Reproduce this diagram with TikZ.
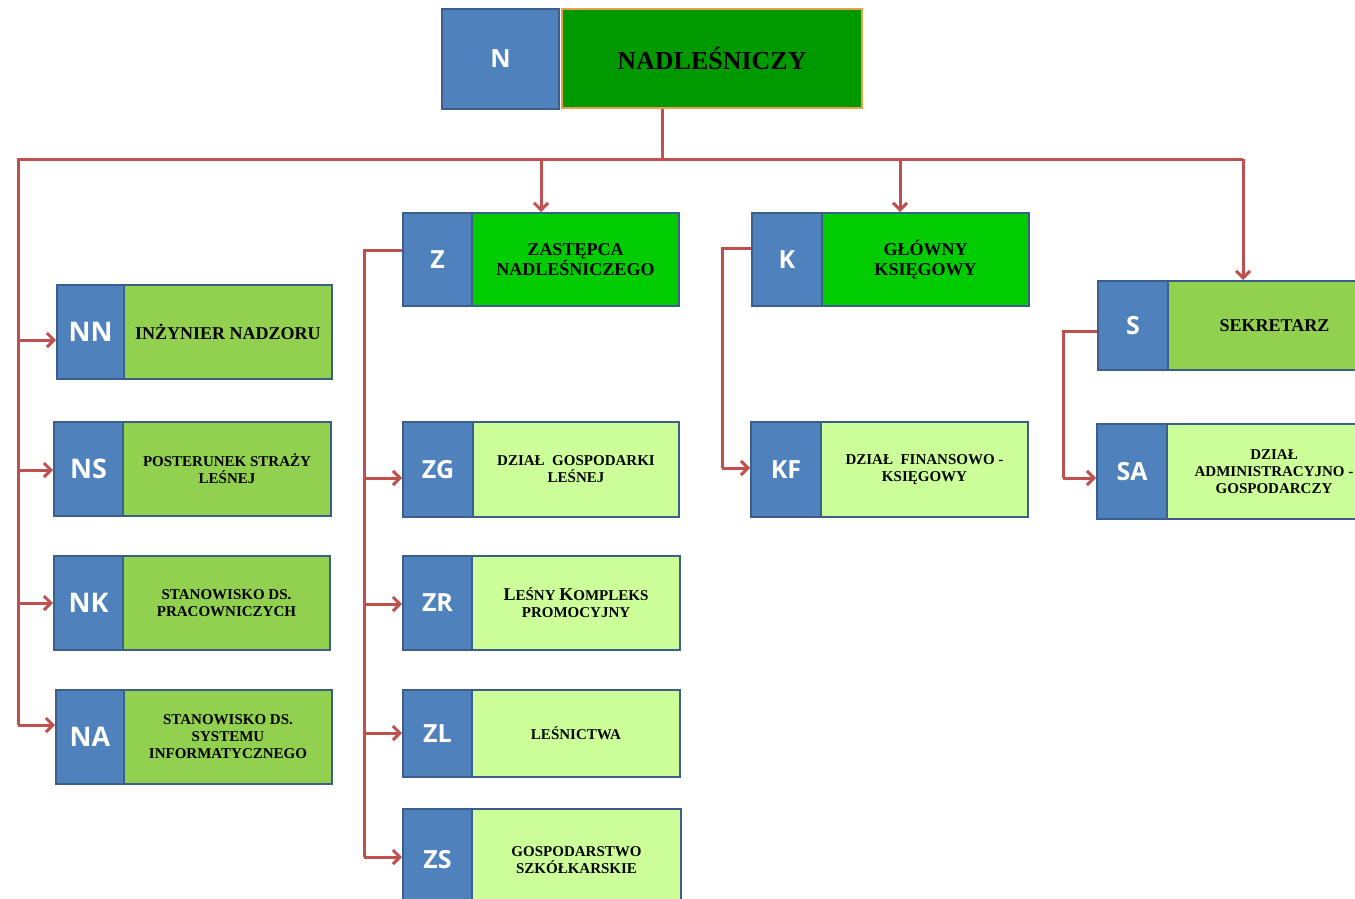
\documentclass[tikz,border=0pt]{standalone}
\usepackage{fontspec}
\setmainfont{Liberation Serif}
\newfontfamily\codefont{Open Sans}
\usetikzlibrary{arrows.meta,calc}
\definecolor{blu}{HTML}{4F81BD}
\definecolor{bdr}{HTML}{3A5F8B}
\definecolor{gmid}{HTML}{92D050}
\definecolor{gbright}{HTML}{00CC00}
\definecolor{gdark}{HTML}{009900}
\definecolor{glight}{HTML}{CCFF99}
\definecolor{orng}{HTML}{E8A04C}
\definecolor{arrred}{HTML}{C0504D}
\tikzset{
  codebox/.style={draw=bdr, fill=blu, line width=2pt, text=white, anchor=north west, inner sep=0pt,
     font=\codefont\bfseries\fontsize{25}{27}\selectfont},
  codebig/.style={font=\codefont\bfseries\fontsize{27}{29}\selectfont},
  titlebox/.style={draw=bdr, line width=2pt, text=black, anchor=north west, inner sep=0pt, align=center},
  tsmall/.style={font=\bfseries\fontsize{15}{17}\selectfont},
  tbig/.style={font=\bfseries\fontsize{18}{20}\selectfont},
  wire/.style={draw=arrred, line width=3pt},
  arr/.style={wire, -{Straight Barb[length=7pt,width=14pt]}}
}
% id, code, xl, xm, xr, yt, yb, code style, title style
\newcommand\orgunit[9]{%
  \node[codebox, #8, minimum width={(#4-#3)*1pt}, minimum height={(#7-#6)*1pt}] (#1code) at (#3,#6) {#2};
  \node[titlebox, #9, minimum width={(#5-#4)*1pt}, minimum height={(#7-#6)*1pt}] (#1) at (#4,#6) {\unittext};
}
\begin{document}
\begin{tikzpicture}[x=1pt,y=-1pt]
\useasboundingbox[fill=white] (0,0) rectangle (1355,899);

% top
\node[codebox, minimum width=117pt, minimum height=100pt] (Ncode) at (441,8) {N};
\node[titlebox, draw=orng, fill=gdark, minimum width=300pt, minimum height=99pt,
      font=\bfseries\fontsize{26}{28}\selectfont] (N) at (561,8) {NADLEŚNICZY};

% left column
\def\unittext{INŻYNIER NADZORU}
\orgunit{NN}{NN}{56}{123}{331}{284}{378}{codebig}{fill=gmid,tbig}
\def\unittext{POSTERUNEK STRAŻY\\LEŚNEJ}
\orgunit{NS}{NS}{53}{122}{330}{421}{515}{codebig}{fill=gmid,tsmall}
\def\unittext{STANOWISKO DS.\\PRACOWNICZYCH}
\orgunit{NK}{NK}{53}{122}{329}{555}{649}{codebig}{fill=gmid,tsmall}
\def\unittext{STANOWISKO DS.\\SYSTEMU\\INFORMATYCZNEGO}
\orgunit{NA}{NA}{55}{123}{331}{689}{783}{codebig}{fill=gmid,tsmall}

% Z column
\def\unittext{ZASTĘPCA\\NADLEŚNICZEGO}
\orgunit{Z}{Z}{402}{471}{678}{212}{305}{}{fill=gbright,tbig}
\def\unittext{DZIAŁ\ \ GOSPODARKI\\LEŚNEJ}
\orgunit{ZG}{ZG}{402}{472}{678}{421}{516}{}{fill=glight,tsmall}
\def\unittext{{\fontsize{18}{17}\selectfont L}EŚNY {\fontsize{18}{17}\selectfont K}OMPLEKS\\PROMOCYJNY}
\orgunit{ZR}{ZR}{402}{471}{679}{555}{649}{}{fill=glight,tsmall}
\def\unittext{LEŚNICTWA}
\orgunit{ZL}{ZL}{402}{471}{679}{689}{776}{}{fill=glight,tsmall}
\def\unittext{GOSPODARSTWO\\SZKÓŁKARSKIE}
\orgunit{ZS}{ZS}{402}{471}{680}{808}{910}{}{fill=glight,tsmall}

% K column
\def\unittext{GŁÓWNY\\KSIĘGOWY}
\orgunit{K}{K}{751}{821}{1028}{212}{305}{}{fill=gbright,tbig}
\def\unittext{DZIAŁ\ \ FINANSOWO -\\KSIĘGOWY}
\orgunit{KF}{KF}{750}{820}{1027}{421}{516}{}{fill=glight,tsmall}

% S column
\def\unittext{SEKRETARZ}
\orgunit{S}{S}{1097}{1167}{1380}{280}{369}{}{fill=gmid,tbig}
\def\unittext{DZIAŁ\\ADMINISTRACYJNO -\\GOSPODARCZY}
\orgunit{SA}{SA}{1096}{1166}{1380}{423}{518}{}{fill=glight,tsmall}

% connectors
\coordinate (stem) at (662,159);
\coordinate (busL) at (18,159);
\coordinate (busR) at (1243,159);
\coordinate (zx) at (541,159);
\coordinate (kx) at (900,159);
\coordinate (zbus) at (364,250);
\coordinate (kbus) at (722,248);
\coordinate (sbus) at (1063,331);

\draw[wire] (stem |- N.south) -- (stem);
\draw[wire, line join=miter] (busR) -- (busL) -- (busL |- 0,725);
\draw[arr] (busR) -- (busR |- S.north);
\draw[arr] (zx) -- (zx |- Z.north);
\draw[arr] (kx) -- (kx |- K.north);

\draw[arr] (busL |- 0,340) -- (NNcode.west |- 0,340);
\draw[arr] (busL |- 0,470) -- (NScode.west |- 0,470);
\draw[arr] (busL |- 0,603) -- (NKcode.west |- 0,603);
\draw[arr] (busL |- 0,725) -- (NAcode.west |- 0,725);

\draw[wire] (Zcode.west |- zbus) -- (zbus) -- (zbus |- 0,857);
\draw[arr] (zbus |- 0,478) -- (ZGcode.west |- 0,478);
\draw[arr] (zbus |- 0,604) -- (ZRcode.west |- 0,604);
\draw[arr] (zbus |- 0,733) -- (ZLcode.west |- 0,733);
\draw[arr] (zbus |- 0,857) -- (ZScode.west |- 0,857);

\draw[wire] (Kcode.west |- kbus) -- (kbus) -- (kbus |- 0,468);
\draw[arr] (kbus |- 0,468) -- (KFcode.west |- 0,468);

\draw[wire] (Scode.west |- sbus) -- (sbus) -- (sbus |- 0,478);
\draw[arr] (sbus |- 0,478) -- (SAcode.west |- 0,478);
\end{tikzpicture}
\end{document}
